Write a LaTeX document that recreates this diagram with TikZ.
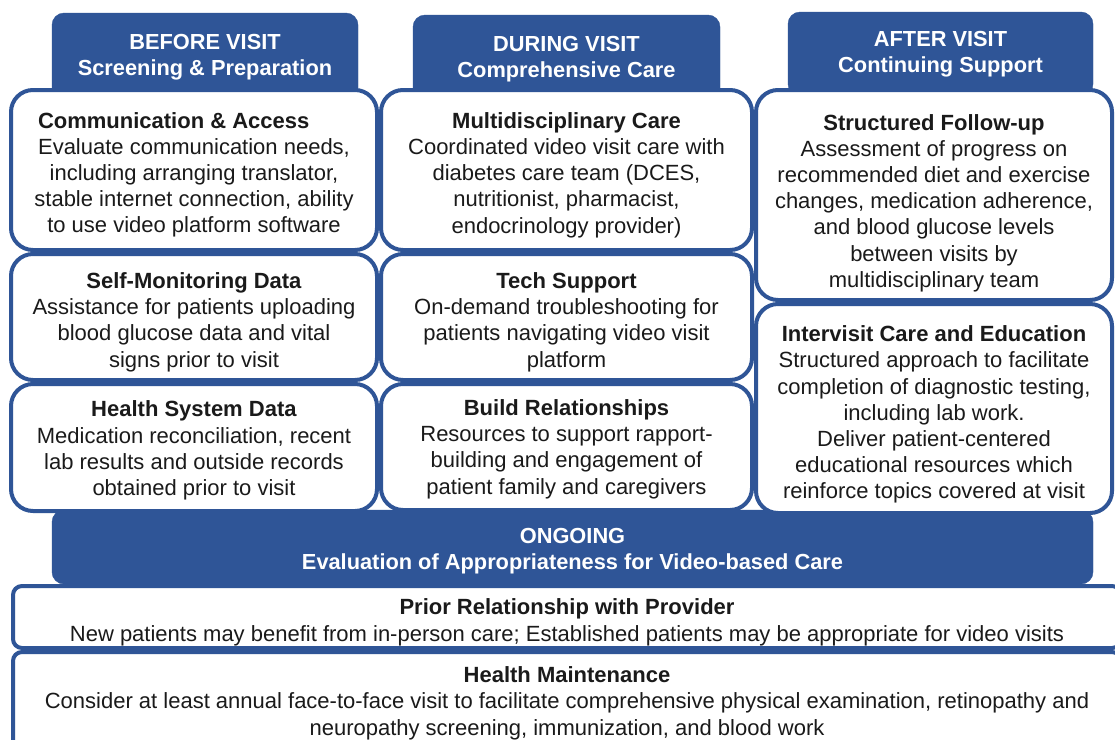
\documentclass[tikz,border=0pt]{standalone}
\usepackage{fontspec}
\setmainfont{Liberation Sans}
\definecolor{visitblue}{RGB}{47,85,151}
\definecolor{bodytext}{RGB}{26,26,26}
% bold first line, with a strut that pushes the block down
\newcommand\titleline[2][26pt]{\rule{0pt}{#1}\textbf{#2}}
\begin{document}
\begin{tikzpicture}[x=1pt, y=-1pt,
  every node/.style={font=\fontsize{22}{26.2}\selectfont, align=center, inner sep=0pt},
  header/.style={fill=visitblue, draw=visitblue, rounded corners=12pt, text=white,
    font=\fontsize{21.8}{26}\selectfont\bfseries},
  card/.style={fill=white, draw=visitblue, line width=4pt, rounded corners=22pt, text=bodytext},
  strip/.style={card, rounded corners=9pt}]
\useasboundingbox[fill=white] (0,0) rectangle (1115,739);

% headers sit behind the cards
\node[header, minimum width=306, minimum height=89] (before) at (205,57.5) {BEFORE VISIT\\Screening \& Preparation};
\node[header, minimum width=307, minimum height=88] (during) at (566.5,59) {DURING VISIT\\Comprehensive Care};
\node[header, minimum width=305, minimum height=84] (after) at (940.5,54) {AFTER VISIT\\Continuing Support};
\node[header, minimum width=1041, minimum height=74] (ongoing) at (572.5,547) {\titleline[24pt]{ONGOING}\\Evaluation of Appropriateness for Video-based Care};

% before visit
\node[card, minimum width=366, minimum height=160] (access) at (194,170)
  {\makebox[312pt][l]{\titleline[25.5pt]{Communication \& Access}}\\Evaluate communication needs,\\including arranging translator,\\stable internet connection, ability\\to use video platform software};
\node[card, minimum width=366, minimum height=126] (selfmon) at (194,317)
  {\titleline{Self-Monitoring Data}\\Assistance for patients uploading\\blood glucose data and vital\\signs prior to visit};
\node[card, minimum width=366, minimum height=127] (sysdata) at (194,447.5)
  {\titleline[22pt]{Health System Data}\\Medication reconciliation, recent\\lab results and outside records\\obtained prior to visit};

% during visit
\node[card, minimum width=371, minimum height=160] (multi) at (566.5,170)
  {\titleline{Multidisciplinary Care}\\Coordinated video visit care with\\diabetes care team (DCES,\\nutritionist, pharmacist,\\endocrinology provider)};
\node[card, minimum width=371, minimum height=126] (tech) at (566.5,317)
  {\titleline{Tech Support}\\On-demand troubleshooting for\\patients navigating video visit\\platform};
\node[card, minimum width=371, minimum height=126] (rapport) at (566.5,447)
  {\titleline[20pt]{Build Relationships}\\Resources to support rapport-\\building and engagement of\\patient family and caregivers};

% after visit
\node[card, minimum width=356, minimum height=210] (followup) at (934,195)
  {\titleline[32pt]{Structured Follow-up}\\Assessment of progress on\\recommended diet and exercise\\changes, medication adherence,\\and blood glucose levels\\between visits by\\multidisciplinary team};
\node[card, minimum width=356, minimum height=209] (intervisit) at (934,408.5)
  {\titleline[28pt]{Intervisit Care and Education}\\Structured approach to facilitate\\completion of diagnostic testing,\\including lab work.\\Deliver patient-centered\\educational resources which\\reinforce topics covered at visit};

% ongoing
\node[strip, minimum width=1108, minimum height=62, font=\fontsize{22}{27}\selectfont] (prior) at (567,617)
  {\titleline[27.5pt]{Prior Relationship with Provider}\\New patients may benefit from in-person care; Established patients may be appropriate for video visits};
\node[strip, minimum width=1108, minimum height=96, font=\fontsize{22}{26.5}\selectfont] (maint) at (567,700)
  {\titleline[22pt]{Health Maintenance}\\Consider at least annual face-to-face visit to facilitate comprehensive physical examination, retinopathy and\\neuropathy screening, immunization, and blood work};
\end{tikzpicture}
\end{document}
